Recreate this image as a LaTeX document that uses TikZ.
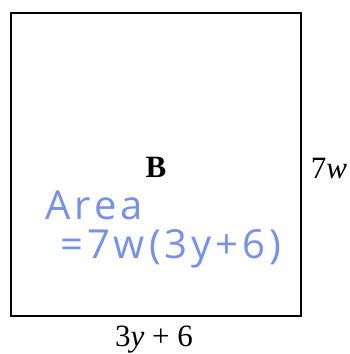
\documentclass[tikz,border=0pt]{standalone}
\usepackage{fontspec}
\setmainfont{Liberation Serif}
\newfontfamily\handfont{Open Sans}[LetterSpace=10]
\usepackage{xcolor}
\usepackage{tikz}
\usetikzlibrary{positioning}

\definecolor{penblue}{RGB}{120,145,230}

\begin{document}
\begin{tikzpicture}[
        x=1pt, y=-1pt,
        side/.style={font=\fontsize{31}{35}\selectfont, inner sep=0pt},
        hand/.style={font=\handfont\fontsize{40}{44}\selectfont, text=penblue,
                     inner sep=0pt, anchor=west}
    ]
        \useasboundingbox (0,0) rectangle (349,354);

        % Region
        \draw[line width=1.4pt] (11,13) rectangle (301,316);

        % Nodes
        \node[side, font=\bfseries\fontsize{31}{35}\selectfont] (lab) at (156,167) {B};
        \node[side] (height) at (329,168) {7\textit{w}};
        \node[side] (width) at (154,340) {3\textit{y} + 6};
        \node[hand] (area) at (45,205) {Area};
        \node[hand] (prod) at (60,249) {=7w(3y+6)};
    \end{tikzpicture}
\end{document}
